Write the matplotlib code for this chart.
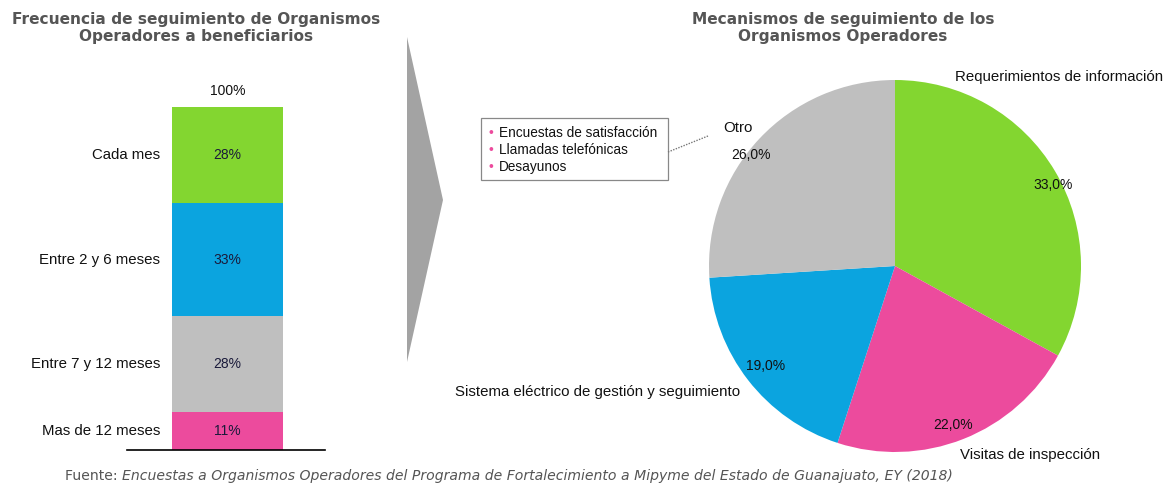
import matplotlib
matplotlib.use("Agg")
import matplotlib.pyplot as plt
from matplotlib.patches import Polygon, Rectangle
from matplotlib.lines import Line2D

# ---- data ----
bar_categories = ["Mas de 12 meses", "Entre 7 y 12 meses", "Entre 2 y 6 meses", "Cada mes"]
bar_values = [11, 28, 33, 28]
bar_labels = ["11%", "28%", "33%", "28%"]
bar_colors = ["#ec4b9d", "#bfbfbf", "#0ba4df", "#83d630"]
bar_total_label = "100%"

pie_categories = ["Requerimientos de información", "Visitas de inspección",
                  "Sistema eléctrico de gestión y seguimiento", "Otro"]
pie_values = [33.0, 22.0, 19.0, 26.0]
pie_colors = ["#83d630", "#ec4b9d", "#0ba4df", "#bfbfbf"]
otro_items = ["Encuestas de satisfacción", "Llamadas telefónicas", "Desayunos"]

W, H = 1171, 487
fx = lambda x: x / W
fy = lambda y: 1 - y / H

plt.rcParams['font.family'] = ['Liberation Sans', 'DejaVu Sans']
fig = plt.figure(figsize=(W / 100, H / 100), dpi=100)

# ---- titles ----
title_color = "#555555"
fig.text(fx(196), fy(28), "Frecuencia de seguimiento de Organismos\nOperadores a beneficiarios",
         ha="center", va="center", fontsize=11.1, fontweight="bold", color=title_color,
         family="DejaVu Sans", linespacing=1.12)
fig.text(fx(843), fy(28), "Mecanismos de seguimiento de los\nOrganismos Operadores",
         ha="center", va="center", fontsize=11.1, fontweight="bold", color=title_color,
         family="DejaVu Sans", linespacing=1.12)

FS = 10.8

# ---- stacked bar ----
axb = fig.add_axes([fx(127), fy(450), fx(325) - fx(127), fy(107) - fy(450)])
axb.set_xlim(0, 198)
axb.set_ylim(0, 100)
bottom = 0
for cat, v, lab, c in zip(bar_categories, bar_values, bar_labels, bar_colors):
    axb.bar(45, v, width=111, bottom=bottom, color=c, align="edge")
    axb.text(100.5, bottom + v / 2, lab, ha="center", va="center", fontsize=10, color="#1a1a3a")
    axb.text(33, bottom + v / 2, cat, ha="right", va="center", fontsize=FS, color="#111111")
    bottom += v
axb.text(100.5, bottom + 2.5, bar_total_label, ha="center", va="bottom", fontsize=10, color="#111111")
for s in ["top", "right", "left"]:
    axb.spines[s].set_visible(False)
axb.spines["bottom"].set_linewidth(1.2)
axb.set_xticks([])
axb.set_yticks([])
axb.patch.set_alpha(0)

# ---- arrow ----
fig.add_artist(Polygon([[fx(407), fy(37)], [fx(443), fy(200)], [fx(407), fy(362)]],
                       closed=True, transform=fig.transFigure, facecolor="#a3a3a3",
                       edgecolor="none"))

# ---- pie ----
cx, cy, r = 895, 266, 186
axp = fig.add_axes([fx(cx - r), fy(cy + r), fx(2 * r), (2 * r) / H])
axp.pie(pie_values, colors=pie_colors, startangle=90, counterclock=False, radius=1,
        wedgeprops=dict(linewidth=0))
axp.set_xlim(-1, 1)
axp.set_ylim(-1, 1)
axp.set_aspect("equal")
axp.axis("off")

def pd(x, y):
    return (x - cx) / r, (cy - y) / r

pct_pos = [(1053, 185), (953, 425), (766, 366), (751, 155)]
for v, (px, py) in zip(pie_values, pct_pos):
    axp.text(*pd(px, py), f"{v:.1f}%".replace(".", ","), ha="center", va="center",
             fontsize=10, color="#111111", clip_on=False)
cat_pos = [(1059, 77), (1030, 455), (598, 392), (738, 128)]
for cat, (px, py) in zip(pie_categories, cat_pos):
    axp.text(*pd(px, py), cat, ha="center", va="center", fontsize=FS, color="#111111",
             clip_on=False)

# ---- "Otro" detail box ----
fig.add_artist(Rectangle((fx(481), fy(180)), fx(668) - fx(481), fy(118) - fy(180),
                         transform=fig.transFigure, facecolor="white", edgecolor="#888888",
                         linewidth=0.9))
for i, item in enumerate(otro_items):
    yy = 133 + i * 17
    fig.text(fx(491), fy(yy), "•", ha="center", va="center", fontsize=10, color="#ec4b9d")
    fig.text(fx(499), fy(yy), item, ha="left", va="center", fontsize=9.8, color="#111111")
fig.add_artist(Line2D([fx(668), fx(708)], [fy(152), fy(136)], transform=fig.transFigure,
                      color="#777777", linestyle=(0, (1, 1)), linewidth=1))

# ---- source ----
t1 = fig.text(fx(65), fy(480), "Fuente: ", ha="left", va="baseline", fontsize=10.1,
              color="#555555", family="DejaVu Sans")
fig.canvas.draw()
bb = t1.get_window_extent(renderer=fig.canvas.get_renderer())
fig.text(bb.x1 / W, fy(480),
         "Encuestas a Organismos Operadores del Programa de Fortalecimiento a Mipyme del Estado de Guanajuato, EY (2018)",
         ha="left", va="baseline", fontsize=10.1, color="#555555", style="italic", family="DejaVu Sans")

fig.savefig("out.png", dpi=100)
